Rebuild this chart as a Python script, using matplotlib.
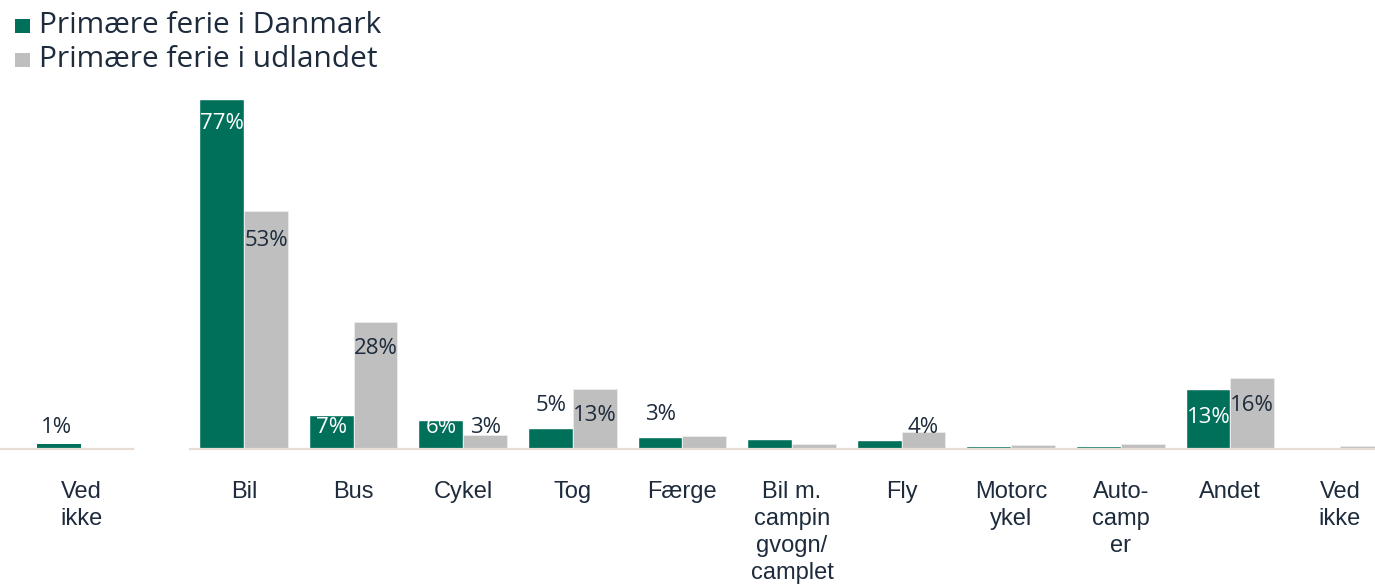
import matplotlib
matplotlib.use("Agg")
import matplotlib.pyplot as plt
from matplotlib.patches import Rectangle

# ---- data ----
categories = ["Bil", "Bus", "Cykel", "Tog", "Færge", "Bil m.\ncampin\ngvogn/\ncamplet",
              "Fly", "Motorc\nykel", "Auto-\ncamp\ner", "Andet", "Ved\nikke"]
danmark = [77, 7.3, 6.2, 4.5, 2.5, 2.0, 1.8, 0.4, 0.4, 13, 0.2]
udlandet = [52.5, 28, 3, 13.2, 2.9, 1.0, 3.8, 0.8, 1.1, 15.7, 0.7]
danmark_labels = ["77%", "7%", "6%", "5%", "3%", "", "", "", "", "13%", ""]
udlandet_labels = ["53%", "28%", "3%", "13%", "", "", "4%", "", "", "16%", ""]

left_categories = ["", "Ved\nikke"]
left_danmark = [0.0, 1.0]
left_udlandet = [0.3, 0.0]
left_danmark_labels = ["", "1%"]

series_names = ["Primære ferie i Danmark", "Primære ferie i udlandet"]

# ---- style ----
GREEN = "#00705a"
GRAY = "#bfbfbf"
DARK = "#1d2b3c"
AXLINE = "#e6ded6"
W = 0.4
dk_label_y = [71.8, 4.8, 4.8, 9.6, 7.7, 0, 0, 0, 0, 6.9, 0]
dk_label_col = ["white", "white", "white", DARK, DARK, DARK, DARK, DARK, DARK, "white", DARK]
ud_label_y = [46.1, 22.1, 4.8, 7.5, 0, 0, 4.8, 0, 0, 9.6, 0]
ud_label_col = [DARK] * 11

plt.rcParams['font.family'] = ['Liberation Sans', 'DejaVu Sans']
LABEL_FONT = ['Open Sans', 'DejaVu Sans']
FW, FH = 1375, 585

fig = plt.figure(figsize=(13.75, 5.85), dpi=100)
bottom = (FH - 449) / FH
top = (FH - 86.6) / FH
ax = fig.add_axes([190 / FW, bottom, (FW - 190) / FW, top - bottom])
axl = fig.add_axes([0, bottom, 133 / FW, top - bottom])


def style(a, ticks, labels, xlim):
    a.set_xticks(ticks)
    a.set_xticklabels(labels, fontsize=17, color=DARK)
    a.set_ylim(0, 80)
    a.set_xlim(*xlim)
    for s in ["top", "right", "left"]:
        a.spines[s].set_visible(False)
    a.spines["bottom"].set_color(AXLINE)
    a.spines["bottom"].set_linewidth(1.6)
    a.set_yticks([])
    a.tick_params(axis="x", length=0, pad=23)
    for t in a.get_xticklabels():
        t.set_linespacing(1.3)


x = list(range(len(categories)))
ax.bar([i - W / 2 for i in x], danmark, W, color=GREEN, edgecolor="#ffffff", linewidth=0.3, zorder=2)
ax.bar([i + W / 2 for i in x], udlandet, W, color=GRAY, edgecolor="#eeeeee", linewidth=0.5, zorder=2)
style(ax, x, categories, (-0.493, 10.32))

for i in x:
    if danmark_labels[i]:
        ax.text(i - W / 2, dk_label_y[i], danmark_labels[i], ha="center", va="center",
                fontsize=16, color=dk_label_col[i], family=LABEL_FONT, zorder=3)
    if udlandet_labels[i]:
        ax.text(i + W / 2, ud_label_y[i], udlandet_labels[i], ha="center", va="center",
                fontsize=16, color=ud_label_col[i], family=LABEL_FONT, zorder=3)

xl = [-1, 0]
axl.bar([i - W / 2 for i in xl], left_danmark, W, color=GREEN, zorder=2)
axl.bar([i + W / 2 for i in xl], left_udlandet, W, color=GRAY, zorder=2)
style(axl, xl, left_categories, (-0.739, 0.474))
axl.text(-W / 2 - 0.02, 4.8, left_danmark_labels[1], ha="center", va="center",
         fontsize=16, color=DARK, family=LABEL_FONT)

# legend (manual)
leg_colors = [GREEN, GRAY]
leg_base = [33, 67]
for name, col, yb in zip(series_names, leg_colors, leg_base):
    fig.add_artist(Rectangle((15 / FW, (FH - yb) / FH), 15 / FW, 14 / FH,
                             transform=fig.transFigure, facecolor=col, edgecolor="none"))
    fig.text(39 / FW, (FH - yb) / FH, name, ha="left", va="baseline",
             fontsize=21.5, color=DARK, family=LABEL_FONT)

fig.savefig("out.png", dpi=100)
